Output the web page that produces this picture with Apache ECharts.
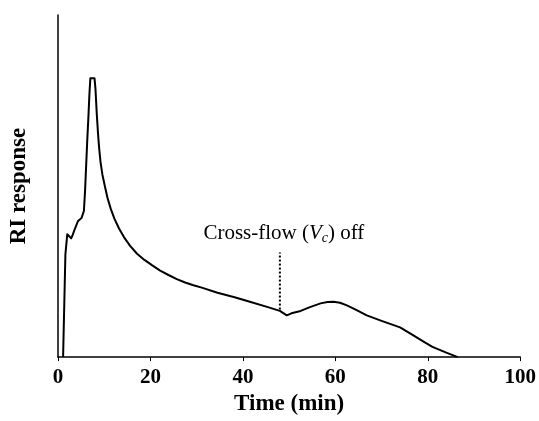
<!DOCTYPE html>
<html>
<head>
<meta charset="utf-8">
<script src="https://cdn.jsdelivr.net/npm/echarts@6/dist/echarts.min.js"></script>
<style>
html,body{margin:0;padding:0;background:#fff;}
#chart{width:539px;height:421px;}
</style>
</head>
<body>
<div id="chart"></div>
<script>
// Time (min)
const time = [1.1, 1.6, 2.0, 2.4, 2.85, 3.2, 3.6, 4.3, 5.1, 5.6, 5.85, 6.1, 6.35, 6.6, 6.8, 7.0, 7.9, 8.1, 8.4, 8.65, 8.9, 9.2, 9.6, 10.2, 10.7, 11.4, 12.2, 13.2, 14.3, 15.6, 17.1, 18.7, 20.4, 22.1, 23.9, 25.7, 27.5, 29.3, 31.1, 34.5, 38.2, 41.5, 45.4, 48.0, 49.5, 50.5, 52.5, 54.5, 56.8, 58.3, 59.6, 61.0, 62.5, 64.5, 66.8, 70.0, 74.0, 76.7, 79.0, 81.0, 84.0, 86.5];
// RI response (arbitrary units)
const response = [0, 30, 35.9, 35.6, 34.7, 35.8, 37.3, 39.7, 40.7, 42.7, 48.5, 56.3, 64.0, 70.8, 77.0, 81.5, 81.5, 78.5, 70.8, 65.5, 61.1, 57.0, 53.4, 49.6, 46.6, 43.4, 40.5, 37.6, 35.0, 32.5, 30.2, 28.4, 26.8, 25.3, 24.0, 22.8, 21.8, 21.0, 20.3, 18.8, 17.5, 16.2, 14.6, 13.5, 12.2, 12.8, 13.5, 14.6, 15.7, 16.1, 16.2, 15.9, 15.1, 13.8, 12.2, 10.6, 8.7, 6.5, 4.6, 3.0, 1.3, 0];
// Cross-flow off marker
const markerTime = [48, 48];
const markerResp = [13.9, 30.6];
const xTicks = [0, 20, 40, 60, 80, 100];

const serif = '"Liberation Serif", "Times New Roman", serif';
const chart = echarts.init(document.getElementById('chart'));
chart.setOption({
  backgroundColor: '#ffffff',
  animation: false,
  grid: {left: 55, right: 18, top: 15, bottom: 63},
  xAxis: {
    type: 'value', min: xTicks[0], max: xTicks[xTicks.length - 1], interval: 20,
    name: 'Time (min)', nameLocation: 'middle', nameGap: 34,
    nameTextStyle: {fontFamily: serif, fontWeight: 'bold', fontSize: 23, color: '#000'},
    axisLine: {lineStyle: {color: '#000', width: 1.5}},
    axisTick: {show: true, length: 4, inside: false, lineStyle: {color: '#000', width: 1}},
    axisLabel: {fontFamily: serif, fontWeight: 'bold', fontSize: 21, color: '#000', margin: 10},
    splitLine: {show: false}
  },
  yAxis: {
    type: 'value', min: 0, max: 100,
    name: 'RI response', nameLocation: 'middle', nameGap: 27, nameRotate: 90,
    nameTextStyle: {fontFamily: serif, fontWeight: 'bold', fontSize: 23, color: '#000'},
    axisLine: {show: true, lineStyle: {color: '#000', width: 1.5}},
    axisTick: {show: false},
    axisLabel: {show: false},
    splitLine: {show: false}
  },
  series: [
    {
      type: 'line', showSymbol: false, smooth: false,
      data: time.map((t, i) => [t, response[i]]),
      lineStyle: {color: '#000', width: 2, join: 'round'}
    },
    {
      type: 'line', showSymbol: false,
      data: markerTime.map((t, i) => [t, markerResp[i]]),
      lineStyle: {color: '#000', width: 2, type: [2, 2]},
      label: {show: false},
      markPoint: {
        symbol: 'circle', symbolSize: 0,
        data: [{coord: [markerTime[1], markerResp[1]]}],
        label: {
          show: true, position: 'top', distance: 6, offset: [4, -1],
          formatter: '{a|Cross-flow (}{i|V}{s|c}{a|) off}',
          rich: {
            a: {fontFamily: serif, fontSize: 21, color: '#000'},
            i: {fontFamily: serif, fontSize: 21, fontStyle: 'italic', color: '#000'},
            s: {fontFamily: serif, fontSize: 14, fontStyle: 'italic', color: '#000', padding: [9, 0, 0, 0]}
          }
        }
      }
    }
  ]
});
</script>
</body>
</html>
